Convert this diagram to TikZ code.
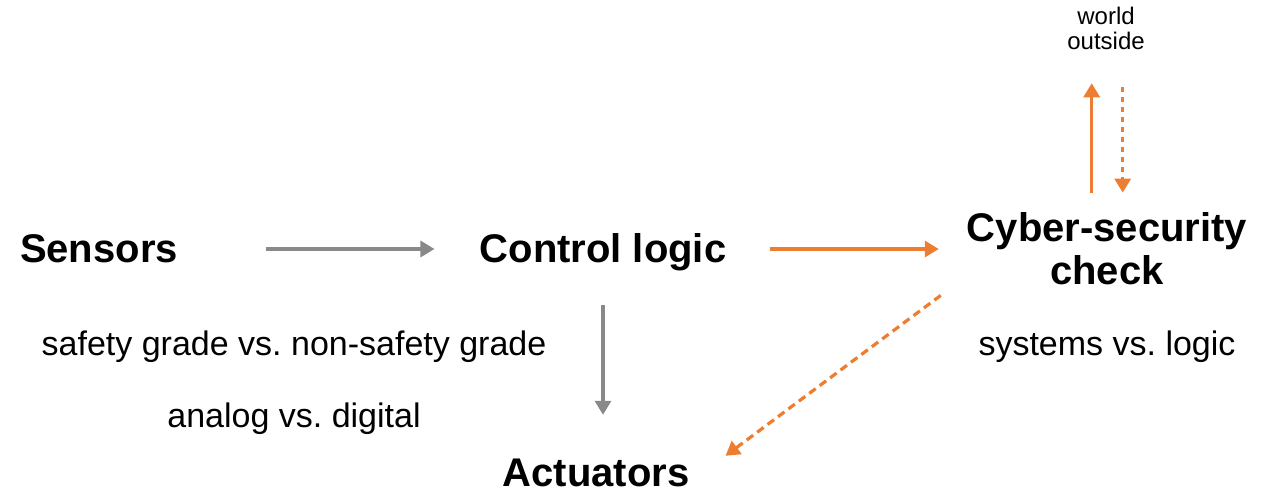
\documentclass[tikz,border=0pt]{standalone}
\usepackage{fontspec}
\setmainfont{Liberation Sans}
\usetikzlibrary{arrows.meta}
\frenchspacing
\definecolor{accent}{HTML}{ED7D31}
\definecolor{flowgray}{HTML}{898989}
\tikzset{
  title/.style={inner sep=0pt, font=\fontsize{40}{43}\selectfont\bfseries,
                text height=30pt, text depth=4pt},
  note/.style={inner sep=0pt, anchor=base, font=\fontsize{34}{40}\selectfont},
  small/.style={inner sep=0pt, align=center, font=\fontsize{24}{25}\selectfont},
  flow/.style={line width=3.2pt, -{Triangle[length=14pt,width=16pt]}},
  grayflow/.style={flow, draw=flowgray, color=flowgray},
  hotflow/.style={flow, draw=accent, color=accent},
  dashflow/.style={hotflow, dash pattern=on 8pt off 5pt},
  dotflow/.style={hotflow, dash pattern=on 5pt off 5pt}
}
\begin{document}
\begin{tikzpicture}[x=1pt,y=-1pt]
\useasboundingbox (0,0) rectangle (1273,489);

% main blocks
\node[title] (sensors) at (99,249) {Sensors};
\node[title] (control) at (603,249) {Control logic};
\node[title, text depth=0pt] (actuators) at (596,471.5) {Actuators};
\node[inner sep=0pt, align=center, font=\fontsize{40}{43}\selectfont\bfseries]
  (cyber) at (1107,249) {Cyber-security\\check};
\node[small] (world) at (1106,28.75) {world\\outside};

% remarks
\node[note] (grade) at (294,355) {safety grade vs. non-safety grade};
\node[note] (signal) at (294,427.7) {analog vs. digital};
\node[note] (scope) at (1107,355) {systems vs. logic};

% data flow
\draw[grayflow] ([xshift=88pt]sensors.east) -- ([xshift=-45pt]control.west);
\draw[grayflow] ([yshift=-39pt]control.south)
  -- ([yshift=41.5pt]control.south |- actuators.north);
\draw[hotflow, shorten <=43pt, shorten >=28pt] (control.east) -- (cyber.west);
\draw[dashflow] ([xshift=-26pt,yshift=-10pt]cyber.south west)
  -- ([xshift=36pt,yshift=0.5pt]actuators.north east);
\draw[hotflow] ([xshift=-15.3pt,yshift=20pt]cyber.north)
  -- ([xshift=-14.3pt,yshift=-33pt]world.south);
\draw[dotflow] ([xshift=16.7pt,yshift=-37pt]world.south)
  -- ([xshift=15.7pt,yshift=20pt]cyber.north);
\end{tikzpicture}
\end{document}
